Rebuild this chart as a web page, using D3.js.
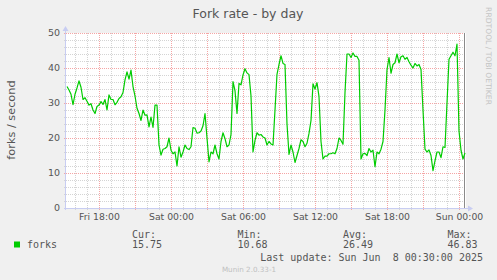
<!DOCTYPE html>
<html>
<head>
<meta charset="utf-8">
<script src="https://cdn.jsdelivr.net/npm/d3@7"></script>
<style>
  html, body { margin: 0; padding: 0; background: #f0f0f0; }
  svg { display: block; }
</style>
</head>
<body>
<svg id="chart" width="497" height="280"></svg>
<script>
// fork rate, one sample per 10 minutes, from Fri Jun 6 15:20 to Sun Jun 8 00:30 (UTC)
const startTime = "2025-06-06T15:20:00Z";
const stepMinutes = 10;
const forks = [
  34.7, 33.7, 32.5, 29.5, 32.5, 34.3, 36.3, 34.5, 31, 31.5,
  30.5, 29.4, 29.8, 28, 27, 29, 29.4, 30.4, 29.6, 31,
  28, 32.3, 31, 31, 29.5, 30.2, 31.3, 31.8, 33, 36.6,
  38.9, 36.8, 39.4, 34.7, 32, 28.5, 27, 25, 28, 26.5,
  26.6, 23.2, 26, 23, 29.4, 29.4, 18, 15.1, 16.8, 17,
  17.5, 20, 16.5, 15.5, 16, 12, 17.5, 14.5, 16, 18,
  17, 16.7, 17.5, 23, 22.8, 21.4, 21.5, 22, 23.5, 27,
  20, 13.2, 16, 15.5, 18, 15.5, 14, 19, 21.5, 19.8,
  17.5, 18, 21, 36.1, 33.5, 27, 35.6, 35.2, 38, 39.8,
  38.6, 38.1, 32, 16, 19.3, 21.5, 20.8, 21, 20.3, 20,
  18, 19, 18.3, 18, 28, 38.2, 41, 43.5, 41.3, 41,
  24, 15.3, 18, 16, 13, 15, 17, 19.5, 19, 17.5,
  18.5, 21.3, 25, 35.5, 34, 35.8, 31.8, 19, 14, 14.8,
  14.8, 15.5, 15.5, 15.8, 15.5, 17, 20, 19.3, 18.2, 33,
  44, 44, 43, 44.3, 43.3, 43.3, 42.2, 14, 15.5, 15.6,
  15, 17, 16, 16.5, 11.8, 16, 15.5, 16.8, 19, 28,
  39.5, 43, 38.5, 41, 41.5, 44, 41.5, 43.2, 43.5, 42.5,
  43, 41.8, 40.8, 40, 41.3, 40.6, 41, 39.6, 28, 16.8,
  16, 16.6, 15, 10.7, 13.5, 16, 16, 14.4, 17.5, 17.3,
  30, 42.5, 43.5, 44.5, 43.5, 46.8, 22, 16.5, 14, 15.75
];

const timeDomain = ["2025-06-06T15:15:00Z", "2025-06-08T00:35:00Z"];
const yDomain = [0, 50];
const yMajorTicks = [0, 10, 20, 30, 40, 50];
const legendHeads = ["Cur:", "Min:", "Avg:", "Max:"];
const legendValues = ["15.75", "10.68", "26.49", "46.83"];
const lastUpdate = "Last update: Sun Jun  8 00:30:00 2025";

const svg = d3.select("#chart");
const W = 497, H = 280;
const pL = 66, pR = 466, pT = 33, pB = 208;

svg.append("rect").attr("width", W).attr("height", H).attr("fill", "#f0f0f0");

const x = d3.scaleUtc()
  .domain(timeDomain.map(d => new Date(d)))
  .range([pL, pR]);
const y = d3.scaleLinear().domain(yDomain).range([pB, pT]);

const t0 = new Date(startTime).getTime();
const series = forks.map((v, i) => ({ t: new Date(t0 + i * stepMinutes * 60000), v: v }));

// canvas
svg.append("rect")
  .attr("x", pL).attr("y", pT)
  .attr("width", pR - pL).attr("height", pB - pT)
  .attr("fill", "#ffffff");

const px = v => Math.round(v) + 0.5;
const minorColor = "#d4d4d4", majorColor = "#f5a5a5";

// minor grid
const minorY = d3.range(0, 51, 2).filter(v => v % 10 !== 0);
const grid = svg.append("g").attr("shape-rendering", "crispEdges");
grid.append("g").selectAll("line").data(minorY).join("line")
  .attr("x1", pL - 2).attr("x2", pR)
  .attr("y1", d => px(y(d))).attr("y2", d => px(y(d)))
  .attr("stroke", minorColor).attr("stroke-dasharray", "1,1");

const hours = x.ticks(d3.utcHour.every(1));
grid.append("g").selectAll("line").data(hours.filter(d => d.getUTCHours() % 3 !== 0)).join("line")
  .attr("x1", d => px(x(d))).attr("x2", d => px(x(d)))
  .attr("y1", pT).attr("y2", pB + 2)
  .attr("stroke", minorColor).attr("stroke-dasharray", "1,1");

// major grid
grid.append("g").selectAll("line").data(yMajorTicks).join("line")
  .attr("x1", pL - 2).attr("x2", pR)
  .attr("y1", d => px(y(d))).attr("y2", d => px(y(d)))
  .attr("stroke", majorColor).attr("stroke-dasharray", "1,1");

const majors = x.ticks(d3.utcHour.every(3));
grid.append("g").selectAll("line").data(majors).join("line")
  .attr("x1", d => px(x(d))).attr("x2", d => px(x(d)))
  .attr("y1", pT).attr("y2", pB + 2)
  .attr("stroke", majorColor).attr("stroke-dasharray", "1,1");

// axes with arrows
const axisColor = "#c8cdf2";
svg.append("line").attr("x1", pL - 0.5).attr("x2", pL - 0.5)
  .attr("y1", pB + 2).attr("y2", pT - 4)
  .attr("stroke", axisColor);
svg.append("path").attr("d", `M${pL - 3.5},${pT - 2} L${pL - 0.5},${pT - 7} L${pL + 2.5},${pT - 2} Z`)
  .attr("fill", axisColor);
svg.append("line").attr("x1", pL - 2).attr("x2", pR + 3)
  .attr("y1", pB + 0.5).attr("y2", pB + 0.5)
  .attr("stroke", axisColor);
svg.append("path").attr("d", `M${pR + 2},${pB - 2.5} L${pR + 7},${pB + 0.5} L${pR + 2},${pB + 3.5} Z`)
  .attr("fill", axisColor);

// now rule
const lastT = series[series.length - 1].t;
svg.append("line")
  .attr("x1", px(x(lastT)) - 1).attr("x2", px(x(lastT)) - 1)
  .attr("y1", pT).attr("y2", pB)
  .attr("stroke", "#8a8a8a");

// data line
const line = d3.line().x(d => x(d.t)).y(d => y(d.v));
svg.append("path").datum(series)
  .attr("d", line)
  .attr("fill", "none")
  .attr("stroke", "#00cc00")
  .attr("stroke-width", 1.2)
  .attr("stroke-linejoin", "round");

const sans = "DejaVu Sans, Verdana, sans-serif";
const mono = "DejaVu Sans Mono, monospace";
const textColor = "#555555";

// y tick labels
svg.append("g").selectAll("text").data(yMajorTicks).join("text")
  .attr("x", 60).attr("y", d => y(d) + 3.3)
  .attr("text-anchor", "end")
  .attr("font-family", sans).attr("font-size", 9.5).attr("fill", textColor)
  .text(d => d);

// x tick labels
const labelTicks = x.ticks(d3.utcHour.every(6));
const fmt = d3.utcFormat("%a %H:%M");
svg.append("g").selectAll("text").data(labelTicks).join("text")
  .attr("x", d => x(d) + 0.5).attr("y", 219.5)
  .attr("text-anchor", "middle")
  .attr("font-family", sans).attr("font-size", 9.3).attr("fill", textColor)
  .text(d => fmt(d));

// title
svg.append("text")
  .attr("x", 248).attr("y", 18.3)
  .attr("text-anchor", "middle")
  .attr("font-family", sans).attr("font-size", 12.5).attr("fill", textColor)
  .text("Fork rate - by day");

// y axis label
svg.append("text")
  .attr("transform", "translate(15,120) rotate(-90)")
  .attr("text-anchor", "middle")
  .attr("font-family", sans).attr("font-size", 11.3).attr("fill", textColor)
  .text("forks / second");

// watermark
svg.append("text")
  .attr("transform", "translate(486,56) rotate(90)")
  .attr("text-anchor", "middle")
  .attr("font-family", sans).attr("font-size", 7.6).attr("fill", "#c4c4c4")
  .text("RRDTOOL / TOBI OETIKER");

// legend
svg.append("rect").attr("x", 14).attr("y", 241.5).attr("width", 6).attr("height", 6)
  .attr("fill", "#00cc00");
svg.append("text").attr("x", 27).attr("y", 248.3)
  .attr("font-family", mono).attr("font-size", 10).attr("fill", textColor)
  .text("forks");

const colX = [132, 237.5, 343, 447.5];
svg.append("g").selectAll("text").data(legendHeads).join("text")
  .attr("x", (d, i) => colX[i]).attr("y", 237.7)
  .attr("font-family", mono).attr("font-size", 10).attr("fill", textColor)
  .text(d => d);
svg.append("g").selectAll("text").data(legendValues).join("text")
  .attr("x", (d, i) => colX[i]).attr("y", 248.3)
  .attr("font-family", mono).attr("font-size", 10).attr("fill", textColor)
  .text(d => d);

svg.append("text").attr("x", 483).attr("y", 261)
  .attr("text-anchor", "end")
  .attr("font-family", mono).attr("font-size", 10).attr("fill", textColor)
  .style("white-space", "pre")
  .text(lastUpdate);

svg.append("text").attr("x", 249).attr("y", 272)
  .attr("text-anchor", "middle")
  .attr("font-family", sans).attr("font-size", 7.2).attr("fill", "#c0c0c0")
  .text("Munin 2.0.33-1");
</script>
</body>
</html>
